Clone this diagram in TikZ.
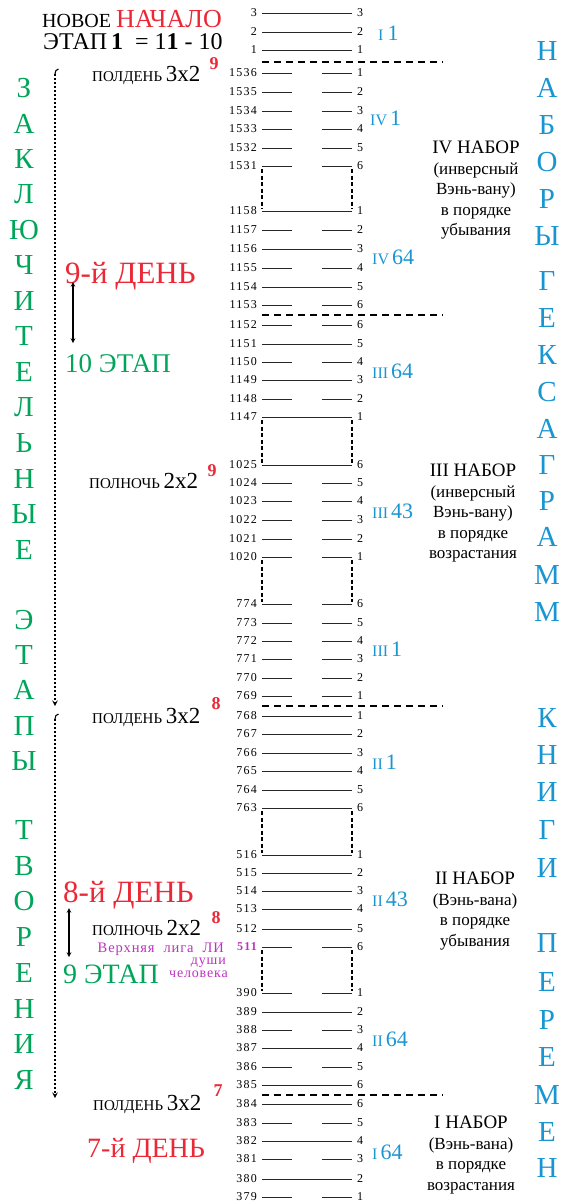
\documentclass[tikz,border=0pt]{standalone}
\usepackage{fontspec}
\setmainfont{Liberation Serif}
\newfontfamily\numfont[LetterSpace=10]{Liberation Serif}
\newfontfamily\widefont[LetterSpace=6]{Liberation Serif}
\usepackage{tikz}
\usepackage{xcolor}
\usetikzlibrary{positioning, arrows}

\definecolor{dayred}{RGB}{235,40,55}
\definecolor{setblue}{RGB}{25,150,210}
\definecolor{stagegreen}{RGB}{0,165,90}
\definecolor{soulpink}{RGB}{190,50,190}

\newcommand{\fsz}[1]{\fontsize{#1}{#1}\selectfont}

\tikzset{
  num/.style={font=\numfont\fsz{12}, inner sep=0pt},
  lnum/.style={num, anchor=east},
  rnum/.style={num, anchor=west},
  yao/.style={line width=0.9pt, draw=black!85},
  gapbox/.style={line width=1.1pt, dash pattern=on 4pt off 2.5pt},
  divider/.style={line width=1.6pt, dash pattern=on 7pt off 5pt},
  flow/.style={line width=1.4pt, dash pattern=on 1.6pt off 2.4pt},
  setlabel/.style={text=setblue, anchor=west, inner sep=0pt},
  vletter/.style={font=\fsz{29}, inner sep=0pt},
  setnote/.style={align=center, anchor=north, inner sep=0pt, font=\fontsize{17}{20.5}\selectfont},
  timenote/.style={anchor=base west, inner sep=0pt},
  power/.style={text=dayred, font=\bfseries\fsz{18}, inner sep=0pt},
  soul/.style={anchor=base east, inner sep=0pt, text=soulpink}
}

% one line of a hexagram: y, left number, right number, 1 = whole / 0 = broken
\newcommand{\yaorow}[4]{%
  \node[lnum] (n#2) at (257,#1) {#2};
  \node[rnum] (r#2) at (357,#1) {#3};
  \ifnum#4=1
    \draw[yao, shorten <=5pt, shorten >=5pt] (n#2) -- (r#2);
  \else
    \draw[yao] ([xshift=5pt]n#2.east) -- +(30,0) ([xshift=-5pt]r#2.west) -- +(-30,0);
  \fi}

\begin{document}
\begin{tikzpicture}[x=1pt, y=-1pt]
  \path[use as bounding box, fill=white] (0,0) rectangle (561,1202);

  % hexagram lines
  \foreach \y/\a/\b/\t in {13/3/3/1, 32/2/2/1, 50/1/1/1,
      73/1536/1/0, 92/1535/2/0, 111/1534/3/0, 129/1533/4/0, 148/1532/5/0, 166/1531/6/0,
      211/1158/1/1, 230/1157/2/0, 249/1156/3/1, 268/1155/4/0, 287/1154/5/1, 305/1153/6/0,
      325/1152/6/0, 344/1151/5/1, 362/1150/4/0, 380/1149/3/1, 399/1148/2/0, 417/1147/1/1,
      465/1025/6/1, 483/1024/5/0, 501/1023/4/0, 520/1022/3/0, 539/1021/2/0, 557/1020/1/0,
      604/774/6/0, 623/773/5/0, 641/772/4/0, 659/771/3/0, 678/770/2/0, 696/769/1/0,
      716/768/1/1, 734/767/2/1, 753/766/3/1, 771/765/4/1, 790/764/5/1, 808/763/6/1,
      855/516/1/1, 873/515/2/1, 891/514/3/1, 909/513/4/1, 929/512/5/1,
      993/390/1/0, 1012/389/2/1, 1030/388/3/0, 1048/387/4/1, 1067/386/5/0, 1085/385/6/1,
      1104/384/6/1, 1123/383/5/0, 1141/382/4/1, 1159/381/3/0, 1179/380/2/1, 1197/379/1/0}
    {\yaorow{\y}{\a}{\b}{\t}}
  \node[lnum, text=soulpink, font=\numfont\bfseries\fsz{12}] (n511) at (257,947) {511};
  \node[rnum] (r511) at (357,947) {6};
  \draw[yao] ([xshift=5pt]n511.east) -- +(30,0) ([xshift=-5pt]r511.west) -- +(-30,0);

  % skipped hexagrams
  \foreach \u/\v in {1531/1158, 1147/1025, 1020/774, 763/516, 511/390} {
    \draw[gapbox, shorten <=3pt, shorten >=2pt] ([xshift=5pt]n\u.east) -- ([xshift=5pt]n\v.east);
    \draw[gapbox, shorten <=3pt, shorten >=2pt] ([xshift=-5pt]r\u.west) -- ([xshift=-5pt]r\v.west);
  }

  % borders between sets
  \coordinate (divA) at (262,62);
  \coordinate (divB) at (262,315);
  \coordinate (divC) at (262,706);
  \coordinate (divD) at (262,1095);
  \draw[divider] (divA) -- ++(181,0);
  \draw[divider] (divB) -- ++(181,0);
  \draw[divider] (divC) -- ++(181,0);
  \draw[divider] (divD) -- ++(181,0);

  % set labels
  \node[setlabel] (lblI1) at (378,33) {\fsz{16}I\hspace{4pt}\fsz{22}1};
  \node[setlabel] (lblIV1) at (370,118) {\fsz{16}IV\hspace{3pt}\fsz{22}1};
  \node[setlabel] (lblIV64) at (372,257) {\fsz{16}IV\hspace{3pt}\fsz{22}64};
  \node[setlabel] (lblIII64) at (372,371) {\fsz{16}III\hspace{3pt}\fsz{22}64};
  \node[setlabel] (lblIII43) at (372,511) {\fsz{16}III\hspace{3pt}\fsz{22}43};
  \node[setlabel] (lblIII1) at (372,649) {\fsz{16}III\hspace{3pt}\fsz{22}1};
  \node[setlabel] (lblII1) at (372,762) {\fsz{16}II\hspace{3pt}\fsz{22}1};
  \node[setlabel] (lblII43) at (372,899) {\fsz{16}II\hspace{3pt}\fsz{22}43};
  \node[setlabel] (lblII64) at (372,1039) {\fsz{16}II\hspace{3pt}\fsz{22}64};
  \node[setlabel] (lblI64) at (372,1152) {\fsz{16}I\hspace{3pt}\fsz{22}64};

  % set descriptions
  \node[setnote] (setIV) at (476,141) {{\fsz{19}IV НАБОР}\\(инверсный\\Вэнь-вану)\\в порядке\\убывания};
  \node[setnote] (setIII) at (473,464) {{\fsz{19}III НАБОР}\\(инверсный\\Вэнь-вану)\\в порядке\\возрастания};
  \node[setnote] (setII) at (475,872) {{\fsz{19}II НАБОР}\\(Вэнь-вана)\\в порядке\\убывания};
  \node[setnote] (setI) at (471,1116) {{\fsz{19}I НАБОР}\\(Вэнь-вана)\\в порядке\\возрастания};

  % vertical titles
  \foreach \c/\y [count=\i] in {Н/51, А/88, Б/125, О/162, Р/199, Ы/236, Г/281, Е/318, К/355, С/392,
      А/429, Г/465, Р/501, А/537, М/575, М/612, К/718, Н/755, И/792, Г/830, И/868,
      П/943, Е/982, Р/1020, Е/1057, М/1095, Е/1132, Н/1168}
    \node[vletter, text=setblue] (book\i) at (547,\y) {\c};
  \foreach \c/\y [count=\i] in {З/88, А/123.5, К/159, Л/194.5, Ю/230, Ч/265.5, И/301, Т/336.5,
      Е/372, Л/407.5, Ь/443, Н/478.5, Ы/514, Е/549.5, Э/620, Т/655, А/690, П/725.5, Ы/761,
      Т/830, В/866, О/901.5, Р/937, Е/973, Н/1008.5, И/1044, Я/1080}
    \node[vletter, text=stagegreen] (stage\i) at (24,\y) {\c};

  % left notes
  \node[timenote] (newstart) at (42,27) {\fsz{20}НОВОЕ \textcolor{dayred}{\fsz{26}НАЧАЛО}};
  \node[timenote] (etap1) at (43,49) {\fsz{24}ЭТАП\,\textbf{1}\ \ =\ 1\textbf{1} - 10};
  \node[timenote] (noon9) at (92,81) {\fsz{15}ПОЛДЕНЬ \fsz{23}3x2};
  \node[power] (p9a) at (214,64) {9};
  \node[timenote, text=dayred, font=\fsz{31}] (day9) at (65,283) {9-й ДЕНЬ};
  \node[timenote, text=stagegreen, font=\fsz{27}] (stage10) at (65,372) {10 ЭТАП};
  \node[timenote] (night9) at (89,488) {\fsz{15}ПОЛНОЧЬ \fsz{23}2x2};
  \node[power] (p9b) at (212,471) {9};
  \node[timenote] (noon8) at (92,723) {\fsz{15}ПОЛДЕНЬ \fsz{23}3x2};
  \node[power] (p8a) at (216,704) {8};
  \node[timenote, text=dayred, font=\fsz{31}] (day8) at (63,902) {8-й ДЕНЬ};
  \node[timenote] (night8) at (92,935) {\fsz{15}ПОЛНОЧЬ \fsz{23}2x2};
  \node[power] (p8b) at (216,918) {8};
  \node[soul, font=\widefont\fsz{14.5}] (soul1) at (224,952) {Верхняя\ \ лига\ \ ЛИ};
  \node[soul, font=\widefont\fsz{14}] (soul2) at (226,964) {души};
  \node[soul, font=\widefont\fsz{14}] (soul3) at (228,977) {человека};
  \node[timenote, text=stagegreen, font=\fsz{28}] (stage9) at (63,983) {9 ЭТАП};
  \node[timenote] (noon7) at (93,1110) {\fsz{15}ПОЛДЕНЬ \fsz{23}3x2};
  \node[power] (p7) at (218,1091) {7};
  \node[timenote, text=dayred, font=\fsz{28}] (day7) at (87,1157) {7-й ДЕНЬ};

  % day <-> stage
  \coordinate (d9top) at (73,282);
  \coordinate (d9bot) at (73,343);
  \coordinate (d8top) at (69,908);
  \coordinate (d8bot) at (69,957);
  \draw[stealth-stealth, line width=1.1pt] (d9top) -- (d9bot);
  \draw[stealth-stealth, line width=1.1pt] (d8top) -- (d8bot);

  % flow of the stages
  \coordinate (flowA) at (55,74);
  \coordinate (flowAend) at (55,706);
  \coordinate (flowB) at (55,719);
  \coordinate (flowBend) at (55,1098);
  \draw[line width=1.1pt] (flowA) to[out=90, in=180] ++(3.5,-5);
  \draw[flow, -stealth] (flowA) -- (flowAend);
  \draw[line width=1.1pt] (flowB) to[out=90, in=180] ++(3.5,-5);
  \draw[flow, -stealth] (flowB) -- (flowBend);
\end{tikzpicture}
\end{document}
